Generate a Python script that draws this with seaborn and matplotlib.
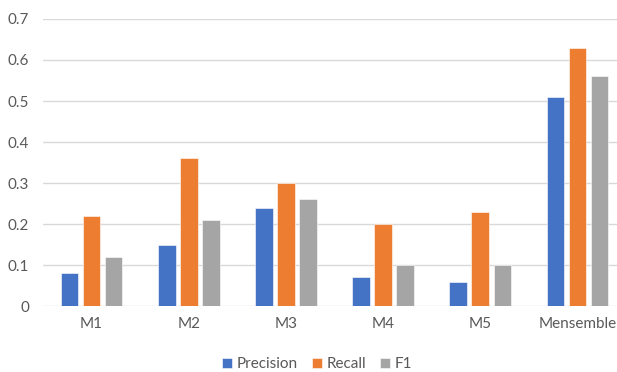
import matplotlib
matplotlib.use("Agg")
import matplotlib.pyplot as plt
import seaborn as sns
import pandas as pd

## values
models = ["M1", "M2", "M3", "M4", "M5", "Mensemble"]
precision = [0.08, 0.15, 0.24, 0.07, 0.06, 0.51]
recall = [0.22, 0.36, 0.30, 0.20, 0.23, 0.63]
f1 = [0.12, 0.21, 0.26, 0.10, 0.10, 0.56]
metrics = ["Precision", "Recall", "F1"]
colors = ["#4472C4", "#ED7D31", "#A5A5A5"]

df = pd.DataFrame({
    "model": models * 3,
    "metric": ["Precision"] * 6 + ["Recall"] * 6 + ["F1"] * 6,
    "value": precision + recall + f1,
})

sns.set_style("white")
plt.rcParams["font.family"] = ["Lato", "DejaVu Sans"]

fig = plt.figure(figsize=(6.17, 3.72), dpi=100)
ax = fig.add_axes([0.0697, 0.177, 0.945, 0.772])

sns.barplot(data=df, x="model", y="value", hue="metric", order=models,
            hue_order=metrics, palette=colors, saturation=1, width=0.68, gap=0.2,
            edgecolor="white", linewidth=0.4, ax=ax, zorder=3)

ax.set_ylim(0, 0.7)
ax.set_xlim(-0.5, 5.5)
ax.set_yticks([0, 0.1, 0.2, 0.3, 0.4, 0.5, 0.6, 0.7])
ax.set_yticklabels(["0", "0.1", "0.2", "0.3", "0.4", "0.5", "0.6", "0.7"])
ax.yaxis.grid(True, color="#D9D9D9", linewidth=1)
ax.set_axisbelow(True)
for s in ax.spines.values():
    s.set_visible(False)
ax.tick_params(axis="both", length=0, labelsize=11, colors="#595959", pad=10)
ax.tick_params(axis="x", pad=8)
ax.set_xlabel("")
ax.set_ylabel("")

leg = ax.legend(loc="upper center", bbox_to_anchor=(0.47, -0.13), ncol=3,
                frameon=False, fontsize=11, handlelength=0.65, handleheight=0.65,
                handletextpad=0.3, columnspacing=0.9)
for t in leg.get_texts():
    t.set_color("#595959")

fig.savefig("out.png", dpi=100)
